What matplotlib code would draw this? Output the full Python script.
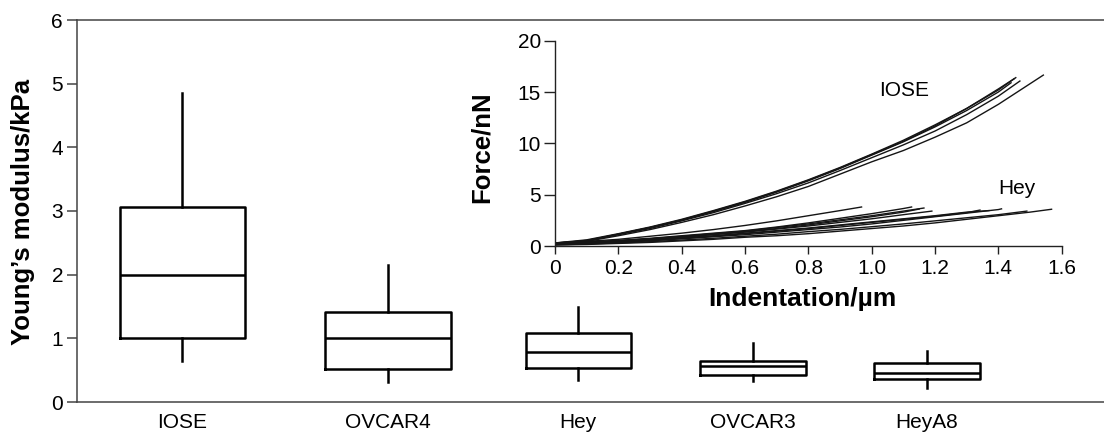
import matplotlib
matplotlib.use('Agg')
import matplotlib.pyplot as plt

plt.rcParams['font.family'] = ['Liberation Sans', 'DejaVu Sans']

# box plot values (kPa)
cells = ['IOSE', 'OVCAR4', 'Hey', 'OVCAR3', 'HeyA8']
whisk_lo = [0.64, 0.32, 0.35, 0.33, 0.22]
q1 = [1.01, 0.52, 0.54, 0.42, 0.36]
med = [2.0, 1.0, 0.78, 0.56, 0.45]
q3 = [3.07, 1.42, 1.09, 0.64, 0.62]
whisk_hi = [4.86, 2.15, 1.49, 0.92, 0.80]

# inset force curves, F (nN) on a common indentation grid (um), plus end point
grid_x = [0, 0.1, 0.2, 0.3, 0.4, 0.5, 0.6, 0.7, 0.8, 0.9, 1.0, 1.1, 1.2, 1.3, 1.4, 1.5]

iose_f = [
    [0.25, 0.55, 1.15, 1.8, 2.55, 3.4, 4.3, 5.3, 6.4, 7.6, 8.9, 10.2, 11.7, 13.4, 15.2],
    [0.3, 0.6, 1.2, 1.85, 2.6, 3.45, 4.35, 5.35, 6.45, 7.65, 8.95, 10.3, 11.8, 13.4, 15.3],
    [0.2, 0.5, 1.15, 1.8, 2.5, 3.35, 4.25, 5.25, 6.35, 7.55, 8.85, 10.15, 11.6, 13.2, 15.0],
    [0.3, 0.5, 1.1, 1.7, 2.45, 3.25, 4.15, 5.1, 6.15, 7.35, 8.6, 9.85, 11.2, 12.8, 14.6],
    [0.2, 0.45, 1.0, 1.6, 2.3, 3.05, 3.9, 4.8, 5.8, 7.0, 8.2, 9.3, 10.6, 12.0, 13.8],
]
iose_end_x = [1.455, 1.45, 1.44, 1.468, 1.542]
iose_end_f = [16.4, 16.3, 15.9, 16.07, 16.65]

hey_f = [
    [0.3, 0.45, 0.65, 0.95, 1.25, 1.6, 2.0, 2.45, 2.95, 3.45],
    [0.3, 0.4, 0.55, 0.75, 1.0, 1.25, 1.5, 1.85, 2.25, 2.7, 3.15, 3.65],
    [0.2, 0.35, 0.5, 0.7, 0.95, 1.2, 1.45, 1.8, 2.15, 2.55, 2.95, 3.4],
    [0.25, 0.3, 0.45, 0.65, 0.85, 1.1, 1.35, 1.65, 1.95, 2.3, 2.65, 3.05],
    [0.15, 0.3, 0.5, 0.7, 0.9, 1.15, 1.4, 1.7, 2.05, 2.45, 2.85, 3.3],
    [0.2, 0.3, 0.4, 0.55, 0.75, 0.95, 1.2, 1.45, 1.7, 2.0, 2.3, 2.6, 2.9, 3.25],
    [0.15, 0.25, 0.35, 0.5, 0.7, 0.9, 1.1, 1.35, 1.6, 1.85, 2.15, 2.5, 2.85, 3.2, 3.55],
    [0.1, 0.2, 0.3, 0.42, 0.58, 0.75, 0.95, 1.15, 1.4, 1.62, 1.88, 2.15, 2.45, 2.75, 3.05],
    [0.25, 0.3, 0.45, 0.6, 0.8, 1.0, 1.25, 1.5, 1.75, 2.05, 2.35, 2.65, 2.95, 3.3],
    [0.1, 0.15, 0.25, 0.35, 0.5, 0.65, 0.85, 1.0, 1.2, 1.45, 1.7, 1.95, 2.25, 2.6, 2.95, 3.3],
]
hey_end_x = [0.968, 1.126, 1.165, 1.19, 1.15, 1.342, 1.41, 1.49, 1.37, 1.568]
hey_end_f = [3.8, 3.8, 3.7, 3.4, 3.6, 3.5, 3.62, 3.4, 3.45, 3.58]

inset_xticks = [0, 0.2, 0.4, 0.6, 0.8, 1.0, 1.2, 1.4, 1.6]
inset_xlabels = ['0', '0.2', '0.4', '0.6', '0.8', '1.0', '1.2', '1.4', '1.6']

# layout (pixels of the 1104x432 picture)
W, H = 1104, 432
box_pos = [1.05, 3.11, 5.01, 6.76, 8.50]
box_w = [1.25, 1.26, 1.05, 1.06, 1.06]

fig = plt.figure(figsize=(W / 100, H / 100), dpi=100)

# main box plot
ax = fig.add_axes([77 / W, 1 - 402 / H, 1 - 77 / W, (402 - 20) / H])
stats = []
for i in range(len(cells)):
    stats.append({'label': cells[i], 'whislo': whisk_lo[i], 'q1': q1[i], 'med': med[i],
                  'q3': q3[i], 'whishi': whisk_hi[i], 'fliers': []})
lp = dict(color='black', linewidth=1.8)
ax.bxp(stats, positions=box_pos, widths=box_w, showfliers=False, showcaps=False,
       boxprops=lp, whiskerprops=lp, medianprops=lp)
ax.set_xlim(0, 10.27)
ax.set_ylim(0, 6)
ax.set_yticks(range(7))
ax.spines['right'].set_visible(False)
for s in ['left', 'top', 'bottom']:
    ax.spines[s].set_color('#444444')
    ax.spines[s].set_linewidth(1.1)
ax.tick_params(axis='y', length=7, width=1.1, color='#444444', labelsize=15, pad=3)
ax.tick_params(axis='x', length=0, labelsize=15, pad=8)
fig.text(23 / W, 1 - 212 / H, 'Young\u2019s modulus/kPa', rotation=90, ha='center', va='center',
         fontsize=18.5, fontweight='bold')

# inset force-indentation curves
ax2 = fig.add_axes([555 / W, 1 - 246 / H, (1061.7 - 555) / W, (246 - 40.7) / H])
ax2.patch.set_alpha(0)
for i in range(len(iose_f)):
    xs = grid_x[:len(iose_f[i])] + [iose_end_x[i]]
    ys = iose_f[i] + [iose_end_f[i]]
    ax2.plot(xs, ys, color='#151515', linewidth=1.0)
for i in range(len(hey_f)):
    xs = grid_x[:len(hey_f[i])] + [hey_end_x[i]]
    ys = hey_f[i] + [hey_end_f[i]]
    ax2.plot(xs, ys, color='#151515', linewidth=1.0)
ax2.set_xlim(0, 1.6)
ax2.set_ylim(0, 20)
ax2.set_xticks(inset_xticks)
ax2.set_xticklabels(inset_xlabels)
ax2.set_yticks([0, 5, 10, 15, 20])
ax2.spines['right'].set_visible(False)
ax2.spines['top'].set_visible(False)
for s in ['left', 'bottom']:
    ax2.spines[s].set_color('#222222')
    ax2.spines[s].set_linewidth(1.0)
ax2.tick_params(axis='y', length=8, width=1.0, color='#222222', labelsize=15, pad=2)
ax2.tick_params(axis='x', length=6, width=1.0, color='#222222', labelsize=15, pad=3)
ax2.text(1.101, 14.6, 'IOSE', ha='center', va='baseline', fontsize=15)
ax2.text(1.459, 5.04, 'Hey', ha='center', va='baseline', fontsize=15)
fig.text(482 / W, 1 - 147 / H, 'Force/nN', rotation=90, ha='center', va='center',
         fontsize=18.5, fontweight='bold')
fig.text(802 / W, 1 - 299 / H, 'Indentation/\u00b5m', ha='center', va='center',
         fontsize=19, fontweight='bold')

fig.savefig('out.png', dpi=100)
